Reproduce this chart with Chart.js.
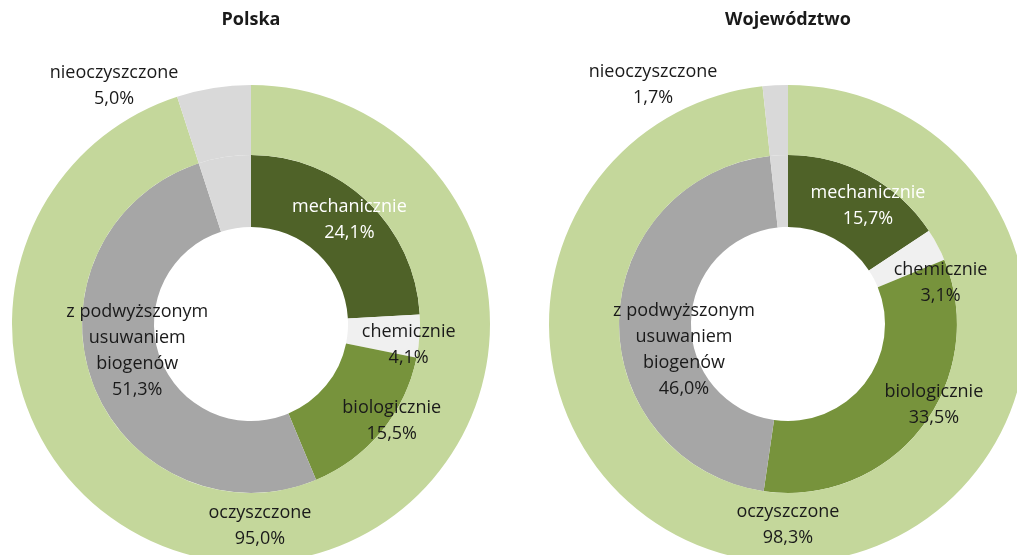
<!DOCTYPE html>
<html lang="pl">
<head>
<meta charset="utf-8">
<title>Ścieki</title>
<script src="https://cdn.jsdelivr.net/npm/chart.js@4.4.1/dist/chart.umd.min.js"></script>
<style>
    html, body { margin: 0; padding: 0; background: #fff; overflow: hidden; }
    body { width: 1017px; height: 555px; position: relative; }
    canvas { position: absolute; top: 0; }
    #polska { left: 0; }
    #woj { left: 508px; }
</style>
</head>
<body>
<canvas id="polska" width="508" height="600"></canvas>
<canvas id="woj" width="540" height="600"></canvas>
<script>
// Data
const titles = ['Polska', 'Województwo'];
const outerLabels = ['oczyszczone', 'nieoczyszczone'];
const innerLabels = [['mechanicznie'], ['chemicznie'], ['biologicznie'], ['z podwyższonym', 'usuwaniem', 'biogenów'], ['nieoczyszczone']];

const outerPolska = [95.0, 5.0];
const innerPolska = [24.1, 4.1, 15.5, 51.3, 5.0];

const outerWoj = [98.3, 1.7];
const innerWoj = [15.7, 3.1, 33.5, 46.0, 1.7];

// Colours
const outerColors = ['#c4d79b', '#d9d9d9'];
const innerColors = ['#4f6228', '#f0f0f0', '#77933c', '#a6a6a6', '#d9d9d9'];

const fmt = v => v.toFixed(1).replace('.', ',') + '%';

// Draws slice labels + title
const sliceLabels = {
    id: 'sliceLabels',
    afterDatasetsDraw(chart, args, opts) {
        const ctx = chart.ctx;
        ctx.save();
        ctx.textAlign = 'center';
        ctx.textBaseline = 'middle';
        ctx.font = '18px "Open Sans"';
        opts.items.forEach(item => {
            const arc = chart.getDatasetMeta(item.ds).data[item.idx];
            const p = arc.getCenterPoint();
            const value = chart.data.datasets[item.ds].data[item.idx];
            const lines = item.ds === 0 ? [outerLabels[item.idx]] : innerLabels[item.idx].slice();
            lines.push(fmt(value));
            const lh = 26;
            const y0 = p.y + item.dy - (lines.length - 1) * lh / 2;
            ctx.fillStyle = item.color || '#1a1a1a';
            lines.forEach((t, i) => ctx.fillText(t, p.x + item.dx, y0 + i * lh));
        });
        const area = chart.chartArea;
        ctx.font = 'bold 18px "Open Sans"';
        ctx.fillStyle = '#1a1a1a';
        ctx.fillText(opts.title, (area.left + area.right) / 2, 20);
        ctx.restore();
    }
};

function makeChart(id, outer, inner, title, padding, items) {
    return new Chart(document.getElementById(id), {
        type: 'doughnut',
        data: {
            labels: outerLabels,
            datasets: [{
                data: outer,
                backgroundColor: outerColors,
                borderWidth: 0,
                weight: 70
            }, {
                data: inner,
                backgroundColor: innerColors,
                borderWidth: 0,
                weight: 72
            }]
        },
        options: {
            responsive: false,
            animation: false,
            devicePixelRatio: 1,
            cutout: '40.6%',
            layout: { padding: padding },
            events: [],
            plugins: {
                legend: { display: false },
                tooltip: { enabled: false },
                sliceLabels: { title: title, items: items }
            }
        },
        plugins: [sliceLabels]
    });
}

makeChart('polska', outerPolska, innerPolska, titles[0],
    { left: 12, right: 18, top: 85, bottom: 37 },
    [
        { ds: 1, idx: 0, dx: 7, dy: -7, color: '#ffffff' },
        { ds: 1, idx: 1, dx: 25, dy: 11 },
        { ds: 1, idx: 2, dx: 38, dy: 12 },
        { ds: 1, idx: 3, dx: 11, dy: -19 },
        { ds: 0, idx: 0, dx: -23, dy: 0 },
        { ds: 0, idx: 1, dx: -105, dy: -37 }
    ]);

makeChart('woj', outerWoj, innerWoj, titles[1],
    { left: 41, right: 21, top: 85, bottom: 37 },
    [
        { ds: 1, idx: 0, dx: 17, dy: -1, color: '#ffffff' },
        { ds: 1, idx: 1, dx: 35, dy: 21 },
        { ds: 1, idx: 2, dx: 41, dy: -1 },
        { ds: 1, idx: 3, dx: 29, dy: 28 },
        { ds: 0, idx: 0, dx: -11, dy: -3 },
        { ds: 0, idx: 1, dx: -124, dy: -35 }
    ]);
</script>
</body>
</html>
